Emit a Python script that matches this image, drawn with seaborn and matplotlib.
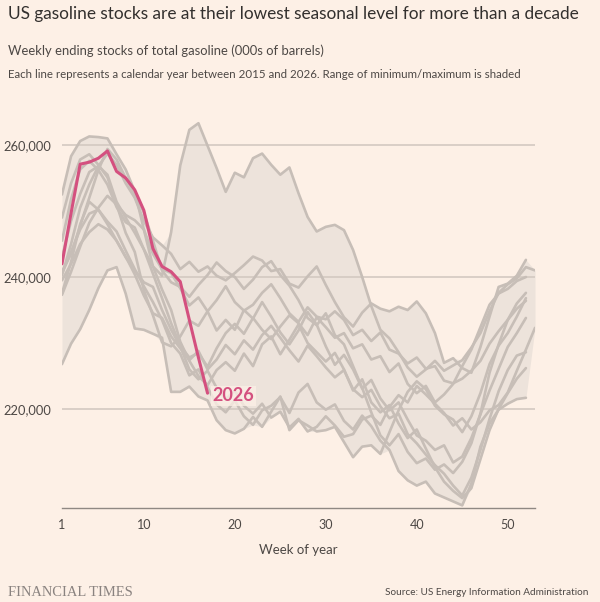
import numpy as np
import pandas as pd
import seaborn as sns
import matplotlib.pyplot as plt
from matplotlib.ticker import FuncFormatter

# weekly ending stocks of total gasoline, millions of barrels
y2015 = [239.5, 242.0, 245.0, 246.8, 248.0, 247.2, 245.5, 243.0, 241.0, 239.2,
         238.5, 235.0, 232.0, 229.5, 226.0, 224.5, 225.8, 223.2, 221.5, 222.8,
         220.5, 219.3, 220.8, 218.7, 219.6, 217.2, 218.5, 216.6, 217.3, 218.9,
         217.5, 215.8, 216.2, 218.4, 219.0, 217.6, 220.3, 222.1, 221.0, 223.5,
         222.2, 220.8, 219.4, 217.5, 218.6, 216.9, 218.0, 219.8, 220.6, 222.5,
         225.8, 229.0, 232.3]
y2016 = [240.3, 245.0, 250.5, 254.0, 256.8, 258.7, 257.0, 254.2, 252.0, 248.5,
         246.0, 244.8, 243.5, 241.2, 242.3, 240.8, 241.6, 240.2, 239.5, 240.6,
         241.8, 243.1, 242.5, 240.9, 241.2, 239.0, 238.4, 240.1, 241.6, 238.8,
         236.2, 233.9, 232.5, 234.6, 236.0, 235.2, 234.8, 235.5, 235.0, 236.3,
         234.5, 231.5, 227.0, 227.7, 226.2, 225.5, 229.4, 234.0, 238.5, 239.0,
         240.2, 242.6]
y2017 = [240.8, 243.5, 247.8, 252.0, 256.2, 259.4, 257.8, 255.0, 252.6, 249.8,
         245.5, 241.0, 239.2, 238.5, 237.0, 238.8, 240.3, 242.2, 240.9, 240.0,
         238.2, 239.6, 241.5, 242.4, 240.3, 238.7, 236.5, 233.8, 232.7, 234.5,
         231.2, 229.8, 226.5, 223.2, 219.5, 216.0, 214.5, 216.2, 213.5, 211.8,
         212.5, 210.8, 211.6, 210.3, 212.0, 214.8, 219.3, 225.5, 229.8, 233.5,
         236.0, 237.6]
y2018 = [237.3, 240.8, 244.6, 248.2, 250.5, 252.3, 251.0, 249.4, 248.6, 247.2,
         243.5, 241.2, 240.6, 238.3, 235.7, 236.9, 234.8, 236.5, 238.6, 236.2,
         234.9, 235.8, 237.6, 238.9, 236.8, 234.5, 233.2, 235.4, 234.0, 233.6,
         234.8, 233.5, 231.2, 232.0, 230.3, 231.6, 229.0, 228.4, 226.9, 227.8,
         226.1, 226.5, 224.3, 223.9, 224.6, 225.8, 227.3, 229.9, 231.8, 233.5,
         235.2, 236.4]
y2019 = [245.5, 251.8, 256.3, 257.6, 256.2, 254.0, 250.6, 248.3, 247.5, 244.2,
         240.5, 236.8, 233.0, 229.6, 227.8, 228.5, 226.4, 229.2, 231.5, 232.9,
         231.4, 233.8, 232.0, 230.6, 232.5, 234.2, 233.0, 231.2, 233.9, 232.4,
         230.8, 231.5, 229.2, 229.8, 227.5, 228.0, 225.6, 226.9, 223.8, 222.4,
         223.5, 221.0, 222.2, 223.8, 226.5, 229.0, 232.4, 235.8, 237.5, 238.2,
         239.4, 240.0]
y2020 = [252.5, 258.3, 260.6, 261.3, 261.2, 261.0, 258.6, 256.3, 253.0, 247.2,
         241.6, 240.2, 246.8, 256.9, 262.3, 263.3, 259.9, 256.5, 252.9, 255.8,
         255.1, 258.0, 258.7, 257.0, 255.5, 256.6, 252.7, 249.1, 246.9, 247.6,
         247.9, 247.1, 244.1, 240.0, 235.6, 232.0, 230.7, 228.6, 226.3, 224.9,
         226.0, 227.3, 225.8, 226.6, 227.4, 229.3, 231.5, 234.8, 237.6, 238.9,
         239.8, 241.5, 241.0]
y2021 = [249.0, 254.2, 257.8, 258.6, 257.0, 255.1, 251.0, 246.7, 243.8, 238.0,
         234.2, 230.1, 229.5, 231.0, 233.4, 232.6, 234.8, 231.9, 233.5, 232.0,
         235.0, 233.7, 236.2, 234.0, 231.6, 229.8, 231.9, 234.7, 232.8, 229.5,
         226.7, 228.2, 226.0, 223.1, 224.4, 221.6, 219.8, 221.0, 218.4, 216.0,
         215.2, 213.8, 214.5, 211.9, 212.8, 215.6, 219.2, 222.8, 226.1, 229.4,
         231.5, 233.8]
y2022 = [240.5, 243.8, 247.2, 249.6, 250.2, 248.4, 246.9, 244.0, 241.2, 238.6,
         236.2, 233.5, 230.0, 228.4, 225.1, 226.0, 223.3, 220.7, 219.5, 221.3,
         218.9, 217.6, 219.8, 220.5, 221.8, 219.4, 222.5, 223.8, 221.0, 219.9,
         220.7, 218.2, 216.9, 219.0, 217.4, 215.2, 213.8, 210.6, 209.2, 208.4,
         209.0, 207.2, 206.6, 206.0, 205.4, 208.7, 214.3, 217.8, 219.9, 220.8,
         221.5, 221.7]
y2023 = [226.8, 229.9, 232.1, 235.0, 238.3, 241.0, 241.5, 237.5, 232.2, 232.0,
         231.4, 230.8, 222.6, 222.6, 223.4, 221.9, 221.3, 218.3, 216.8, 216.3,
         217.0, 218.8, 217.3, 219.6, 221.9, 216.8, 218.3, 217.5, 216.6, 216.8,
         217.3, 215.0, 212.7, 214.3, 214.5, 213.2, 216.5, 219.8, 222.6, 224.2,
         223.0, 220.5, 219.2, 218.4, 216.5, 218.9, 222.4, 226.8, 229.6, 231.5,
         234.0, 236.8]
y2024 = [237.5, 242.3, 248.0, 251.4, 250.2, 248.0, 245.5, 243.1, 240.4, 237.2,
         234.5, 233.8, 231.0, 229.2, 227.4, 228.8, 226.0, 227.5, 229.7, 228.3,
         230.4, 229.0, 231.2, 232.6, 230.8, 228.9, 227.2, 229.6, 228.0, 226.3,
         224.8, 225.9, 223.0, 221.8, 222.9, 220.4, 218.6, 219.3, 216.2, 214.8,
         213.1, 211.5, 210.2, 208.4, 206.9, 209.6, 213.8, 218.5, 222.7, 225.9,
         228.1, 228.6]
y2025 = [243.0, 248.5, 252.6, 255.9, 256.8, 255.5, 251.4, 249.0, 246.7, 244.2,
         241.6, 238.1, 235.0, 230.2, 227.3, 225.0, 223.6, 225.9, 227.1, 225.8,
         228.4, 226.5, 229.8, 231.0, 228.3, 230.5, 232.8, 230.0, 228.6, 227.2,
         228.5, 226.0, 222.8, 224.5, 221.0, 219.5, 220.6, 217.8, 215.6, 216.9,
         214.0, 211.2, 209.0, 207.6, 206.5, 208.0, 212.4, 216.8, 220.0, 222.4,
         224.6, 226.2]
y2026 = [242.0, 249.7, 257.1, 257.4, 258.0, 259.1, 256.0, 255.0, 253.2, 250.1,
         244.3, 241.6, 240.8, 239.3, 233.5, 227.8, 222.4]

past = {2015: y2015, 2016: y2016, 2017: y2017, 2018: y2018, 2019: y2019, 2020: y2020,
        2021: y2021, 2022: y2022, 2023: y2023, 2024: y2024, 2025: y2025}

rows = []
for yr, vals in past.items():
    for i, v in enumerate(vals):
        rows.append((yr, i + 1, v * 1000))
df = pd.DataFrame(rows, columns=["year", "week", "stocks"])
cur = pd.DataFrame({"week": np.arange(1, len(y2026) + 1), "stocks": np.array(y2026) * 1000})
band = df.groupby("week")["stocks"].agg(["min", "max"]).reset_index()

BG = "#fdf0e6"
GREY = "#c7beb7"
PINK = "#d4507f"
TXT = "#33302e"

sns.set_theme(style="white")
plt.rcParams["font.family"] = ["Lato", "DejaVu Sans"]

fig = plt.figure(figsize=(6, 6.02), dpi=100, facecolor=BG)
ax = fig.add_axes([0.1033, 0.1561, 0.7884, 0.6688])
ax.set_facecolor(BG)

ax.fill_between(band["week"], band["min"], band["max"], color="#ede3db", lw=0, zorder=1)
for yv in [220000, 240000, 260000]:
    ax.axhline(yv, color="#d3c9c1", lw=1.2, zorder=1.5)

sns.lineplot(data=df, x="week", y="stocks", hue="year",
             palette={yr: GREY for yr in past}, legend=False, lw=1.9, ax=ax, zorder=2)
sns.lineplot(data=cur, x="week", y="stocks", color=PINK, lw=2.2, ax=ax, zorder=4)
ax.text(cur["week"].iloc[-1] + 0.55, cur["stocks"].iloc[-1] - 400, "2026", color=PINK,
        fontsize=13, fontweight="bold", va="center", ha="left", zorder=5,
        bbox=dict(facecolor=BG, edgecolor="none", alpha=0.75, pad=1))

ax.set_xlim(1, 53)
ax.set_ylim(205000, 266000)
ax.set_xticks([1, 10, 20, 30, 40, 50])
ax.set_yticks([220000, 240000, 260000])
ax.yaxis.set_major_formatter(FuncFormatter(lambda v, _: f"{v:,.0f}"))
ax.set_xlabel("Week of year", fontsize=9.5, color="#4d4845", labelpad=9)
ax.set_ylabel("")
for s in ["top", "right", "left"]:
    ax.spines[s].set_visible(False)
ax.spines["bottom"].set_color("#8f8883")
ax.spines["bottom"].set_linewidth(1.0)
ax.tick_params(axis="x", length=5, width=1.0, color="#8f8883", labelsize=9, labelcolor="#4d4845", pad=3)
ax.tick_params(axis="y", length=0, labelsize=9.3, labelcolor="#4d4845", pad=8)

title = fig.text(0.013, 0.977, "US gasoline stocks are at their lowest seasonal level for more than a decade",
                 fontsize=13.5, color=TXT, va="center", ha="left")
sub = fig.text(0.013, 0.916, "Weekly ending stocks of total gasoline (000s of barrels)",
               fontsize=10, color="#4d4845", va="center", ha="left")
note = fig.text(0.013, 0.877, "Each line represents a calendar year between 2015 and 2026. Range of minimum/maximum is shaded",
                fontsize=8.5, color="#4d4845", va="center", ha="left")
ft = fig.text(0.013, 0.015, "FINANCIAL TIMES", fontsize=10, color="#8a8380", va="center", ha="left",
              family=["Liberation Serif", "DejaVu Serif"])
src = fig.text(0.98, 0.015, "Source: US Energy Information Administration", fontsize=8.5,
               color="#4d4845", va="center", ha="right")

# scale texts to the widths they take in the reference
fig.canvas.draw()
r = fig.canvas.get_renderer()
for t, w in [(title, 570), (sub, 316), (note, 515), (ft, 124), (src, 203)]:
    cur_w = t.get_window_extent(r).width
    t.set_fontsize(t.get_fontsize() * w / cur_w)

fig.savefig("out.png", dpi=100, facecolor=BG)
